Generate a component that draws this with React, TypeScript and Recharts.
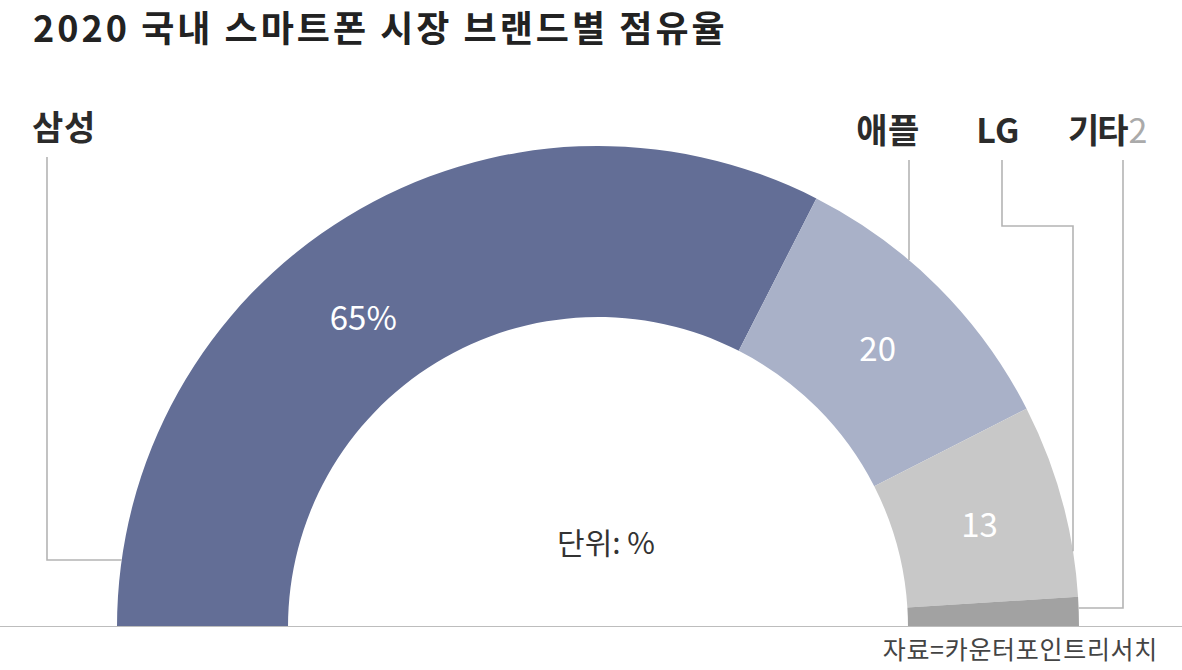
import { Cell, Pie, PieChart } from 'recharts';

const brands = ['삼성', '애플', 'LG', '기타'];
const shares = [65, 20, 13, 2];
const valueLabels = ['65%', '20', '13', ''];
const sideNotes = ['', '', '', '2'];

const title = '2020 국내 스마트폰 시장 브랜드별 점유율';
const unitNote = '단위: %';
const sourceNote = '자료=카운터포인트리서치';

const COLORS = ['#636e96', '#a9b1c8', '#c8c8c8', '#a2a2a2'];
const LINE = '#b4b4b4';
const FONT = '"Noto Sans CJK KR", "Noto Sans", sans-serif';

const W = 1182;
const H = 670;
const CX = 598;
const CY = 627;
const R_IN = 310;
const R_OUT = 481;

// where each brand name sits and how its leader line is routed
type Leader = {
  tx: number;
  ty: number;
  anchor: 'start' | 'middle';
  // polyline points before reaching the arc; last leg goes to the arc
  pts: [number, number][];
  end: 'down' | 'left' | 'right';
  spacing: number;
  valAngle?: number;
  valRadius?: number;
};

const leaders: Leader[] = [
  { tx: 32, ty: 140, anchor: 'start', pts: [[47, 157], [47, 560]], end: 'right', spacing: 0.8, valAngle: 127, valRadius: 390 },
  { tx: 888, ty: 143, anchor: 'middle', pts: [[909, 160]], end: 'down', spacing: 0.5 },
  { tx: 998, ty: 143, anchor: 'middle', pts: [[1002, 160], [1002, 226], [1073, 226]], end: 'down', spacing: 0.5 },
  { tx: 1068, ty: 143, anchor: 'start', pts: [[1123, 160], [1123, 608]], end: 'left', spacing: -2 },
];

const data = brands.map((name, i) => ({ name, value: shares[i] }));

const RAD = Math.PI / 180;

function renderLabel(props: any) {
  const { cx, cy, outerRadius, innerRadius, midAngle, index, name } = props;
  const L = leaders[index];
  const pts = L.pts.map((p) => [...p]);
  const last = pts[pts.length - 1];
  if (L.end === 'down') {
    const dx = last[0] - cx;
    pts.push([last[0], cy - Math.sqrt(outerRadius * outerRadius - dx * dx)]);
  } else {
    const dy = cy - last[1];
    const dx = Math.sqrt(outerRadius * outerRadius - dy * dy);
    pts.push([L.end === 'right' ? cx - dx : cx + dx, last[1]]);
  }
  const ang = L.valAngle ?? midAngle;
  const rr = L.valRadius ?? (innerRadius + outerRadius) / 2;
  const vx = cx + rr * Math.cos(ang * RAD);
  const vy = cy - rr * Math.sin(ang * RAD);
  return (
    <g key={`lbl-${index}`}>
      <polyline
        points={pts.map((p) => p.join(',')).join(' ')}
        fill="none"
        stroke={LINE}
        strokeWidth={1.6}
      />
      <text
        x={L.tx}
        y={L.ty}
        textAnchor={L.anchor}
        fontFamily={FONT}
        fontSize={34}
        fontWeight={700}
        letterSpacing={L.spacing}
        fill="#2b2b2b"
      >
        {name}
        {sideNotes[index] && (
          <tspan fill="#aaaaaa" fontWeight={400} dx={2}>
            {sideNotes[index]}
          </tspan>
        )}
      </text>
      {valueLabels[index] && (
        <text
          x={vx}
          y={vy}
          textAnchor="middle"
          dominantBaseline="central"
          fontFamily={FONT}
          fontSize={33}
          fill="#ffffff"
        >
          {valueLabels[index]}
        </text>
      )}
    </g>
  );
}

export default function App() {
  return (
    <div
      style={{
        position: 'absolute',
        left: 0,
        top: 0,
        width: W,
        height: H,
        background: '#fff',
        fontFamily: FONT,
      }}
    >
      <div
        style={{
          position: 'absolute',
          left: 33,
          top: 0,
          fontSize: 36,
          fontWeight: 700,
          letterSpacing: 3,
          color: '#222',
          whiteSpace: 'nowrap',
        }}
      >
        {title}
      </div>
      <PieChart
        width={W}
        height={H}
        margin={{ top: 0, right: 0, bottom: 0, left: 0 }}
        style={{ position: 'absolute', left: 0, top: 0 }}
      >
        <Pie
          data={data}
          dataKey="value"
          nameKey="name"
          cx={CX}
          cy={CY}
          startAngle={180}
          endAngle={0}
          innerRadius={R_IN}
          outerRadius={R_OUT}
          stroke="none"
          label={renderLabel}
          labelLine={false}
          isAnimationActive={false}
        >
          {data.map((d, i) => (
            <Cell key={d.name} fill={COLORS[i]} />
          ))}
        </Pie>
      </PieChart>
      <div
        style={{
          position: 'absolute',
          left: 0,
          top: 626,
          width: W,
          height: 0,
          borderTop: '1.5px solid #bdbdbd',
        }}
      />
      <div
        style={{
          position: 'absolute',
          left: 456,
          width: 300,
          top: 519,
          textAlign: 'center',
          fontSize: 30,
          color: '#333',
        }}
      >
        {unitNote}
      </div>
      <div
        style={{
          position: 'absolute',
          right: 24,
          top: 630,
          fontSize: 25,
          letterSpacing: 0.7,
          color: '#444',
          whiteSpace: 'nowrap',
        }}
      >
        {sourceNote}
      </div>
    </div>
  );
}
